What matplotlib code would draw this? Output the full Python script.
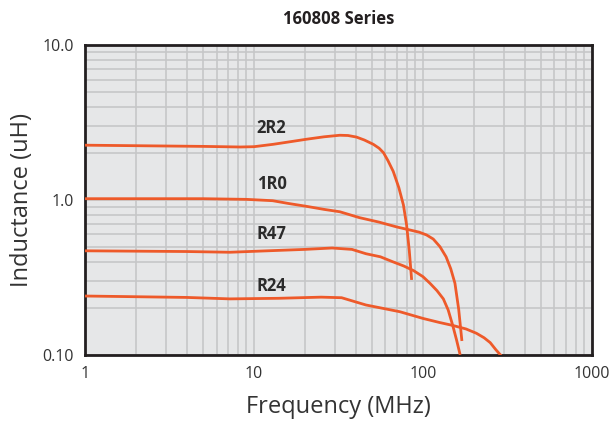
import matplotlib
matplotlib.use('Agg')
import matplotlib.pyplot as plt
from matplotlib.ticker import FixedLocator, NullFormatter, LogLocator

plt.rcParams['font.family'] = ['Open Sans', 'DejaVu Sans']

# inductance curves (freq MHz, inductance uH)
f_2r2 = [1, 5, 8.3, 10, 13, 16, 20.5, 26, 32.2, 36, 40.4, 45, 50.8, 55, 58.4, 62, 66.7, 72, 76.6, 80, 83, 85.7]
l_2r2 = [2.26, 2.22, 2.2, 2.21, 2.29, 2.37, 2.47, 2.56, 2.62, 2.61, 2.55, 2.44, 2.29, 2.16, 2.02, 1.8, 1.53, 1.2, 0.93, 0.69, 0.47, 0.305]

f_1r0 = [1, 5, 9, 12.9, 16, 20.5, 26, 32.2, 42, 55, 70, 84, 95, 105, 115, 126, 137, 146, 154.6, 162.7, 170]
l_1r0 = [1.02, 1.02, 1.01, 0.99, 0.95, 0.91, 0.87, 0.84, 0.77, 0.72, 0.67, 0.64, 0.62, 0.595, 0.56, 0.50, 0.43, 0.36, 0.29, 0.197, 0.123]

f_r47 = [1, 4, 7.2, 12, 20, 29, 38, 46, 56, 66, 77, 88, 100, 110, 121, 132, 141, 150, 158, 166]
l_r47 = [0.47, 0.465, 0.46, 0.47, 0.48, 0.49, 0.48, 0.45, 0.43, 0.40, 0.375, 0.35, 0.32, 0.29, 0.26, 0.23, 0.195, 0.155, 0.125, 0.10]

f_r24 = [1, 4, 7.2, 14, 25, 33, 46, 73, 100, 125, 150, 180, 207, 230, 250, 270, 292]
l_r24 = [0.24, 0.235, 0.23, 0.232, 0.236, 0.234, 0.21, 0.19, 0.172, 0.162, 0.155, 0.147, 0.138, 0.129, 0.12, 0.108, 0.098]

series = ['2R2', '1R0', 'R47', 'R24']
label_y = [2.92, 1.26, 0.606, 0.28]

line_color = '#ee5a2a'

fig = plt.figure(figsize=(6.09, 4.22), dpi=100)
ax = fig.add_axes([0.1396, 0.159, 0.8324, 0.734])
ax.set_facecolor('#e6e7e8')

for f, l in [(f_2r2, l_2r2), (f_1r0, l_1r0), (f_r47, l_r47), (f_r24, l_r24)]:
    ax.plot(f, l, color=line_color, linewidth=2, solid_capstyle='butt',
            solid_joinstyle='round', zorder=3)

for name, y in zip(series, label_y):
    ax.text(10.4, y, name, fontsize=12, fontweight='bold', color='#2b2b2b',
            ha='left', va='center', zorder=4)

ax.set_xscale('log')
ax.set_yscale('log')
ax.set_xlim(1, 1000)
ax.set_ylim(0.1, 10)

ax.xaxis.set_major_locator(FixedLocator([1, 10, 100, 1000]))
ax.set_xticklabels(['1', '10', '100', '1000'])
ax.yaxis.set_major_locator(FixedLocator([0.1, 1, 10]))
ax.set_yticklabels(['0.10', '1.0', '10.0'])
ax.xaxis.set_minor_locator(LogLocator(base=10, subs=range(2, 10)))
ax.yaxis.set_minor_locator(LogLocator(base=10, subs=range(2, 10)))
ax.xaxis.set_minor_formatter(NullFormatter())
ax.yaxis.set_minor_formatter(NullFormatter())

ax.grid(which='both', color='#c6c7c8', linewidth=1.2, zorder=1)
ax.set_axisbelow(True)
ax.tick_params(which='both', length=0, labelsize=11.5, colors='#333333', pad=8)

for s in ax.spines.values():
    s.set_linewidth(2)
    s.set_color('#231f20')

ax.set_title('160808 Series', fontsize=12, fontweight='bold', color='#231f20', pad=15)
ax.set_xlabel('Frequency (MHz)', fontsize=17, color='#333333', labelpad=9)
ax.set_ylabel('Inductance (uH)', fontsize=17, color='#333333', labelpad=6)

fig.savefig('out.png', dpi=100)
plt.close()
